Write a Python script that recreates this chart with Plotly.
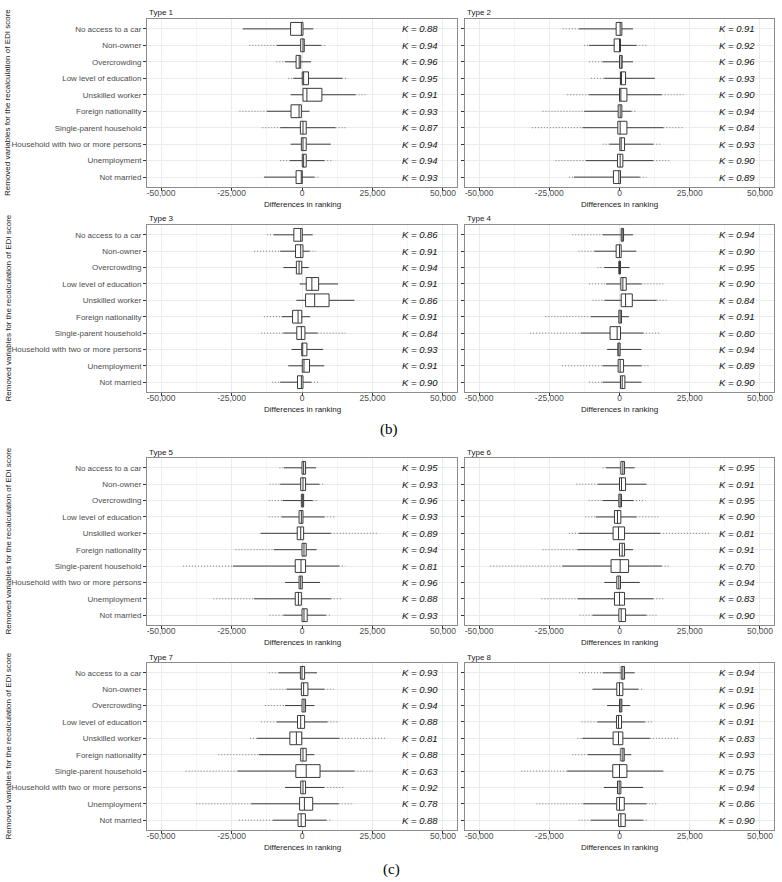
import plotly.graph_objects as go

cats = ["No access to a car", "Non-owner", "Overcrowding", "Low level of education",
        "Unskilled worker", "Foreign nationality", "Single-parent household",
        "Household with two or more persons", "Unemployment", "Not married"]
type_names = ["Type 1", "Type 2", "Type 3", "Type 4", "Type 5", "Type 6", "Type 7", "Type 8"]
x_ticks = [-50000, -25000, 0, 25000, 50000]
x_ticktext = ["-50,000", "-25,000", "0", "25,000", "50,000"]

# ---- Type 1
t1_wlo = [-21000, -8900, -6000, -3100, -4050, -12400, -7750, -4050, -4300, -13500]
t1_q1 = [-4050, -460, -2100, 100, 350, -3900, -580, -230, 100, -2100]
t1_med = [-230, 350, -1000, 580, 1740, -1040, 350, 350, 580, -230]
t1_q3 = [350, 800, -460, 2300, 7060, -230, 1500, 1500, 1500, 100]
t1_whi = [4050, 6700, 3200, 14200, 19000, 2660, 11900, 10200, 7900, 4400]
t1_olo = [None, -18700, -9100, -4900, None, -22200, -14100, None, -7750, None]
t1_ohi = [None, 8200, None, 16300, 22500, None, 16000, None, 11100, 6100]
t1_k = ["0.88", "0.94", "0.96", "0.95", "0.91", "0.93", "0.87", "0.94", "0.94", "0.93"]

# ---- Type 2
t2_wlo = [-14400, -10800, -6000, -5400, -10800, -12600, -13200, -3600, -12000, -16200]
t2_q1 = [-1200, -1900, 0, 360, 0, -480, -600, 120, -720, -2160]
t2_med = [240, 0, 600, 720, 480, 240, 240, 600, 240, -240]
t2_q3 = [840, 360, 960, 2160, 2640, 840, 2640, 1800, 1200, 360]
t2_whi = [4800, 6000, 4800, 12600, 15000, 4200, 15600, 12000, 12000, 7200]
t2_olo = [-20200, -12600, -10800, -10200, -18600, -27400, -31200, -6000, -22800, -18000]
t2_ohi = [None, 10200, None, None, 22800, 6000, 22800, 15000, 18000, 9600]
t2_k = ["0.91", "0.92", "0.96", "0.93", "0.90", "0.94", "0.84", "0.93", "0.90", "0.89"]

# ---- Type 3
t3_wlo = [-10000, -7750, -6600, -800, -2000, -7200, -6600, -3700, -4900, -7750]
t3_q1 = [-2900, -2300, -2000, 1500, 1270, -3350, -1850, -100, 100, -1600]
t3_med = [-460, -460, -1040, 3500, 4500, -1400, -230, 230, 700, -230]
t3_q3 = [100, 350, -100, 5900, 9600, -100, 1040, 1740, 2660, 350]
t3_whi = [3800, 2660, 2400, 12800, 18600, 2900, 5550, 7500, 7900, 3200]
t3_olo = [-12400, -17000, None, None, None, -13500, -14500, None, None, -10600]
t3_ohi = [None, 5000, None, None, None, None, 15400, None, None, 6400]
t3_k = ["0.86", "0.91", "0.94", "0.91", "0.86", "0.91", "0.84", "0.93", "0.91", "0.90"]

# ---- Type 4
t4_wlo = [-6000, -9000, -5400, -4800, -5400, -10200, -13800, -4400, -6000, -6000]
t4_q1 = [600, -1200, -240, 480, 600, -240, -3360, -600, -480, 360]
t4_med = [960, 0, 0, 1200, 2160, 240, -840, -240, 240, 960]
t4_q3 = [1440, 600, 360, 2400, 4560, 720, 360, 240, 1440, 1920]
t4_whi = [4800, 6000, 3600, 7800, 13200, 3360, 8400, 7800, 7800, 7800]
t4_olo = [-16800, -14600, -7800, -10800, -9600, -26400, -31800, None, -20400, -10800]
t4_ohi = [None, None, None, 15600, 17400, None, 14400, None, 10600, None]
t4_k = ["0.94", "0.90", "0.95", "0.90", "0.84", "0.91", "0.80", "0.94", "0.89", "0.90"]

# ---- Type 5
t5_wlo = [-6400, -7750, -6800, -7200, -14700, -10000, -24500, -6000, -17000, -6600]
t5_q1 = [0, -460, -230, -1040, -1700, 0, -2400, -1040, -2400, 0]
t5_med = [580, 350, 230, -230, -460, 700, -350, -460, -1270, 700]
t5_q3 = [1270, 1270, 580, 350, 580, 1500, 1270, 100, -230, 1850]
t5_whi = [5000, 6100, 3800, 7900, 10200, 5200, 13100, 6400, 10200, 8450]
t5_olo = [-8000, -11500, -11800, -11800, None, -23600, -42200, None, -31500, -11500]
t5_ohi = [None, 8200, 5900, 11900, 27000, None, 15400, None, 14200, 10200]
t5_k = ["0.95", "0.93", "0.96", "0.93", "0.89", "0.94", "0.81", "0.96", "0.88", "0.93"]

# ---- Type 6
t6_wlo = [-4800, -7800, -6000, -8400, -14400, -15000, -20400, -5400, -15000, -9600]
t6_q1 = [480, 0, -240, -1800, -2280, 0, -3000, -960, -1800, -240]
t6_med = [1200, 720, 240, -720, -360, 960, 240, -240, 0, 600]
t6_q3 = [1800, 2160, 720, 480, 1800, 1800, 3240, 360, 1800, 2160]
t6_whi = [5400, 9600, 4800, 6000, 14400, 4800, 15000, 7200, 12000, 9600]
t6_olo = [-6000, -15400, -11000, -12200, -18000, -27400, -46000, None, -27800, -14200]
t6_ohi = [None, None, 9200, 13800, 32400, None, 18000, None, 15600, 13800]
t6_k = ["0.95", "0.91", "0.95", "0.90", "0.81", "0.91", "0.70", "0.94", "0.83", "0.90"]

# ---- Type 7
t7_wlo = [-8300, -5400, -6000, -8900, -15900, -15300, -22800, -6000, -18000, -10300]
t7_q1 = [-580, -230, 0, -1600, -4300, -460, -2200, -460, -860, -1400]
t7_med = [0, 580, 700, -460, -2000, 350, 1500, 350, 860, -300]
t7_q3 = [930, 2100, 1270, 930, -100, 1500, 6400, 1270, 3800, 1200]
t7_whi = [5300, 7900, 4400, 9000, 13100, 4400, 18600, 7900, 13000, 8600]
t7_olo = [-11800, -11200, -13200, -14500, -18400, -29700, -41300, None, -37500, -22400]
t7_ohi = [None, 11300, None, 13300, 29800, None, 25200, 15400, 18400, 10800]
t7_k = ["0.93", "0.90", "0.94", "0.88", "0.81", "0.88", "0.63", "0.92", "0.78", "0.88"]

# ---- Type 8
t8_wlo = [-6000, -9600, -4400, -7800, -13200, -11400, -18600, -5600, -12900, -10300]
t8_q1 = [600, -960, 0, -1080, -2280, 480, -2400, -720, -1000, -340]
t8_med = [1200, 0, 480, -360, -360, 1200, 0, -120, 0, 500]
t8_q3 = [1800, 1200, 840, 720, 1200, 1680, 2640, 480, 1700, 2060]
t8_whi = [5400, 6600, 3800, 9000, 10800, 4200, 15600, 8400, 9500, 8300]
t8_olo = [-14400, None, None, -13500, -15000, -16800, -35000, None, -29600, -14600]
t8_ohi = [None, 8200, None, 12000, 21000, None, None, None, 13400, 10300]
t8_k = ["0.94", "0.91", "0.96", "0.91", "0.83", "0.93", "0.75", "0.94", "0.86", "0.90"]

panels_data = [
    (t1_wlo, t1_q1, t1_med, t1_q3, t1_whi, t1_olo, t1_ohi, t1_k),
    (t2_wlo, t2_q1, t2_med, t2_q3, t2_whi, t2_olo, t2_ohi, t2_k),
    (t3_wlo, t3_q1, t3_med, t3_q3, t3_whi, t3_olo, t3_ohi, t3_k),
    (t4_wlo, t4_q1, t4_med, t4_q3, t4_whi, t4_olo, t4_ohi, t4_k),
    (t5_wlo, t5_q1, t5_med, t5_q3, t5_whi, t5_olo, t5_ohi, t5_k),
    (t6_wlo, t6_q1, t6_med, t6_q3, t6_whi, t6_olo, t6_ohi, t6_k),
    (t7_wlo, t7_q1, t7_med, t7_q3, t7_whi, t7_olo, t7_ohi, t7_k),
    (t8_wlo, t8_q1, t8_med, t8_q3, t8_whi, t8_olo, t8_ohi, t8_k),
]

W, H = 782, 882
# panel pixel boxes: left, right, top, bottom
boxes = [(147, 457, 19, 187), (465, 774, 19, 187),
         (147, 457, 225, 392), (465, 774, 225, 392),
         (147, 457, 458, 625), (465, 774, 458, 625),
         (147, 457, 663, 830), (465, 774, 663, 830)]

FONT = "Liberation Sans, Arial, Helvetica, sans-serif"
fig = go.Figure()
annotations = []
layout = {}

for i, (data, box) in enumerate(zip(panels_data, boxes)):
    n = i + 1
    xa = "x" if n == 1 else f"x{n}"
    ya = "y" if n == 1 else f"y{n}"
    wlo, q1, med, q3, whi, olo, ohi, kv = data
    L, R, T, B = box

    # outliers as dotted segments
    ox, oy = [], []
    for j, c in enumerate(cats):
        if olo[j] is not None:
            ox += [olo[j], wlo[j], None]
            oy += [c, c, None]
        if ohi[j] is not None:
            ox += [whi[j], ohi[j], None]
            oy += [c, c, None]
    fig.add_trace(go.Scatter(x=ox, y=oy, mode="lines", xaxis=xa, yaxis=ya,
                             line=dict(color="#7a7a7a", width=1, dash="1px,2px"),
                             showlegend=False, hoverinfo="skip"))
    fig.add_trace(go.Box(y=cats, q1=q1, median=med, q3=q3, lowerfence=wlo, upperfence=whi,
                         orientation="h", xaxis=xa, yaxis=ya, fillcolor="white",
                         line=dict(color="#3a3a3a", width=1), whiskerwidth=0, width=0.78,
                         boxpoints=False, showlegend=False, hoverinfo="skip"))

    layout["xaxis" if n == 1 else f"xaxis{n}"] = dict(
        domain=[L / W, R / W], anchor=ya, range=[-55000, 55000],
        tickvals=x_ticks, ticktext=x_ticktext,
        tickfont=dict(family=FONT, size=8.5, color="#4d4d4d"),
        ticks="outside", ticklen=3, tickcolor="#333333", ticklabelstandoff=-5,
        showline=True, mirror=True, linecolor="#8c8c8c", linewidth=1,
        showgrid=True, gridcolor="#ebebeb", gridwidth=1, zeroline=False,
        minor=dict(tickvals=[-37500, -12500, 12500, 37500], showgrid=True,
                   gridcolor="#f5f5f5", ticks=""),
        fixedrange=True)
    layout["yaxis" if n == 1 else f"yaxis{n}"] = dict(
        domain=[1 - B / H, 1 - T / H], anchor=xa, type="category",
        categoryorder="array", categoryarray=cats, range=[9.6, -0.6],
        ticks="outside", ticklen=3, tickcolor="#333333",
        showticklabels=(n % 2 == 1),
        tickfont=dict(family=FONT, size=8, color="#4d4d4d"),
        showline=True, mirror=True, linecolor="#8c8c8c", linewidth=1,
        showgrid=True, gridcolor="#ebebeb", gridwidth=1, zeroline=False,
        fixedrange=True)

    # strip title
    annotations.append(dict(text=type_names[i], x=L / W, y=1 - (T - 6) / H,
                            xref="paper", yref="paper", xanchor="left", yanchor="middle",
                            showarrow=False, font=dict(family=FONT, size=8, color="#1a1a1a")))
    # x title
    annotations.append(dict(text="Differences in ranking", x=(L + R) / 2 / W, y=1 - (B + 17) / H,
                            xref="paper", yref="paper", xanchor="center", yanchor="middle",
                            showarrow=False, font=dict(family=FONT, size=8, color="#1a1a1a")))
    # y title
    if n % 2 == 1:
        annotations.append(dict(text="Removed variables for the recalculation of EDI score",
                                x=8 / W, y=1 - (T + B) / 2 / H, xref="paper", yref="paper",
                                xanchor="center", yanchor="middle", textangle=-90,
                                showarrow=False, font=dict(family=FONT, size=8, color="#1a1a1a")))
    # K values
    for j, c in enumerate(cats):
        annotations.append(dict(text=f"<i>K = {kv[j]}</i>", x=42000, y=c, xref=xa, yref=ya,
                                xanchor="center", yanchor="middle", showarrow=False,
                                font=dict(family=FONT, size=9.5, color="#111111")))

annotations.append(dict(text="(b)", x=389 / W, y=1 - 430 / H, xref="paper", yref="paper",
                        xanchor="center", yanchor="middle", showarrow=False,
                        font=dict(family="Liberation Serif, Times New Roman, serif", size=15,
                                  color="#000000")))
annotations.append(dict(text="(c)", x=391 / W, y=1 - 869 / H, xref="paper", yref="paper",
                        xanchor="center", yanchor="middle", showarrow=False,
                        font=dict(family="Liberation Serif, Times New Roman, serif", size=15,
                                  color="#000000")))

fig.update_layout(width=W, height=H, margin=dict(l=0, r=0, t=0, b=0),
                  paper_bgcolor="white", plot_bgcolor="white",
                  annotations=annotations, showlegend=False, **layout)

fig.write_html("out.html", config={"displayModeBar": False},
               post_script="document.body.style.margin='0px';document.body.style.padding='0px';")
